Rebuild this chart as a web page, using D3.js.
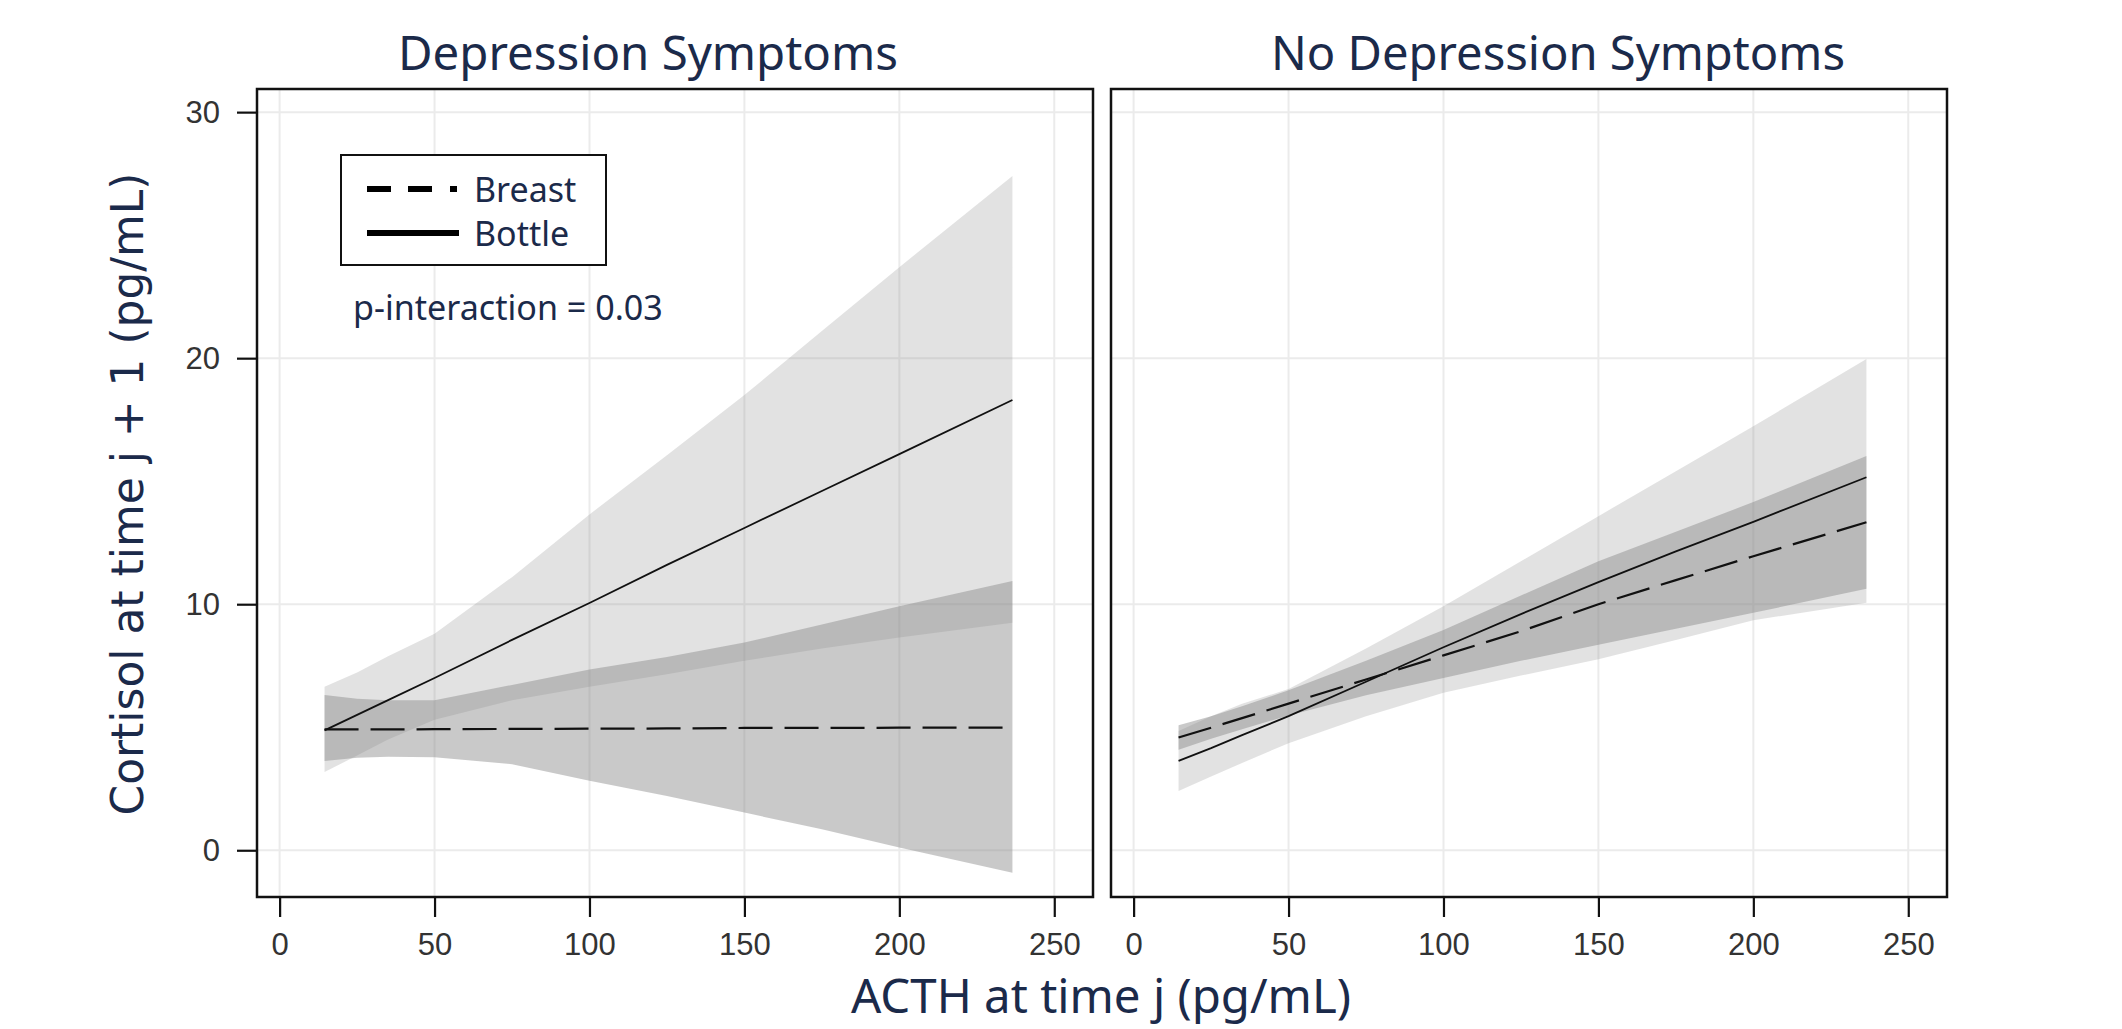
<!DOCTYPE html>
<html>
<head>
<meta charset="utf-8">
<script src="https://cdn.jsdelivr.net/npm/d3@7"></script>
<style>
  body { margin: 0; background: #fff; }
  svg { display: block; }
</style>
</head>
<body>
<svg id="chart" width="2122" height="1029"></svg>
<script>
const acth = [14.5, 25, 35, 50, 75, 100, 125, 150, 175, 200, 236.5];

// Depression symptoms panel
const depBottleFit = [4.87, 5.5, 6.1, 7.0, 8.55, 10.05, 11.6, 13.1, 14.6, 16.1, 18.3];
const depBottleLo  = [3.18, 3.85, 4.5, 5.3, 6.1, 6.65, 7.15, 7.7, 8.2, 8.65, 9.25];
const depBottleHi  = [6.65, 7.22, 7.89, 8.8, 11.1, 13.65, 16.05, 18.5, 21.1, 23.7, 27.4];
const depBreastFit = [4.91, 4.91, 4.91, 4.92, 4.93, 4.94, 4.95, 4.97, 4.97, 4.98, 4.98];
const depBreastLo  = [3.63, 3.76, 3.8, 3.78, 3.5, 2.82, 2.2, 1.53, 0.85, 0.11, -0.91];
const depBreastHi  = [6.31, 6.16, 6.1, 6.1, 6.72, 7.35, 7.85, 8.44, 9.18, 9.92, 10.94];

// No depression symptoms panel
const ndBottleFit = [3.63, 4.15, 4.68, 5.45, 6.85, 8.25, 9.6, 10.9, 12.15, 13.35, 15.16];
const ndBottleLo  = [2.41, 3.0, 3.55, 4.35, 5.45, 6.4, 7.1, 7.76, 8.55, 9.35, 10.06];
const ndBottleHi  = [4.85, 5.45, 5.95, 6.55, 8.2, 9.92, 11.75, 13.58, 15.4, 17.23, 19.97];
const ndBreastFit = [4.58, 4.98, 5.37, 5.96, 6.94, 7.92, 8.9, 10.0, 10.98, 11.95, 13.33];
const ndBreastLo  = [4.08, 4.53, 4.92, 5.48, 6.3, 7.0, 7.7, 8.35, 9.0, 9.65, 10.63];
const ndBreastHi  = [5.08, 5.45, 5.85, 6.5, 7.7, 8.95, 10.35, 11.75, 12.95, 14.15, 16.02];

const xTicks = [0, 50, 100, 150, 200, 250];
const yTicks = [0, 10, 20, 30];

const navy = "#1b2a4a";
const svg = d3.select("#chart");

const plotTop = 89, plotBottom = 897, panelW = 836;

const y = d3.scaleLinear().domain([-1.9, 30.94]).range([plotBottom, plotTop]);

function fitWidth(sel, target) {
    const size = parseFloat(sel.attr("font-size"));
    const len = sel.node().getComputedTextLength();
    sel.attr("font-size", (size * target / len).toFixed(2));
}

function drawPanel(left, s, title, titleX, showY) {
    const x = d3.scaleLinear().domain([-7.3, 262.5]).range([left, left + panelW]);
    const g = svg.append("g");

    // grid
    g.selectAll(".gx").data(xTicks).enter().append("line")
        .attr("x1", d => x(d)).attr("x2", d => x(d))
        .attr("y1", plotTop).attr("y2", plotBottom)
        .attr("stroke", "#ebebeb").attr("stroke-width", 2);
    g.selectAll(".gy").data(yTicks).enter().append("line")
        .attr("x1", left).attr("x2", left + panelW)
        .attr("y1", d => y(d)).attr("y2", d => y(d))
        .attr("stroke", "#ebebeb").attr("stroke-width", 2);

    const band = (lo, hi) => d3.area()
        .x((d, i) => x(acth[i]))
        .y0((d, i) => y(lo[i]))
        .y1((d, i) => y(hi[i]))(acth);
    const line = v => d3.line()
        .x((d, i) => x(acth[i]))
        .y((d, i) => y(v[i]))(acth);

    g.append("path").attr("d", band(s.bottleLo, s.bottleHi))
        .attr("fill", "rgb(134,134,134)").attr("fill-opacity", 0.24);
    g.append("path").attr("d", band(s.breastLo, s.breastHi))
        .attr("fill", "rgb(134,134,134)").attr("fill-opacity", 0.448);

    g.append("path").attr("d", line(s.bottleFit))
        .attr("fill", "none").attr("stroke", "#111").attr("stroke-width", 1.8);
    g.append("path").attr("d", line(s.breastFit))
        .attr("fill", "none").attr("stroke", "#111").attr("stroke-width", 2.2)
        .attr("stroke-dasharray", "34,12");

    // axes
    g.append("g")
        .attr("transform", `translate(0,${plotBottom})`)
        .call(d3.axisBottom(x).tickValues(xTicks).tickSize(20).tickPadding(16));
    if (showY) {
        g.append("g")
            .attr("transform", `translate(${left},0)`)
            .call(d3.axisLeft(y).tickValues(yTicks).tickSize(20).tickPadding(17));
    }
    g.selectAll(".domain").remove();
    g.selectAll(".tick line").attr("stroke", "#111").attr("stroke-width", 2.2);
    g.selectAll(".tick text")
        .attr("font-family", "Liberation Sans, Arial, sans-serif")
        .attr("font-size", 31).attr("fill", "#333");

    // frame
    g.append("rect")
        .attr("x", left).attr("y", plotTop)
        .attr("width", panelW).attr("height", plotBottom - plotTop)
        .attr("fill", "none").attr("stroke", "#111").attr("stroke-width", 2.5);

    const t = g.append("text")
        .attr("x", titleX).attr("y", 70)
        .attr("text-anchor", "middle")
        .attr("font-family", "Noto Sans").attr("font-size", 48)
        .attr("fill", navy).text(title);
    fitWidth(t, title.length > 19 ? 574 : 500);
}

drawPanel(257, {
    bottleFit: depBottleFit, bottleLo: depBottleLo, bottleHi: depBottleHi,
    breastFit: depBreastFit, breastLo: depBreastLo, breastHi: depBreastHi
}, "Depression Symptoms", 648, true);

drawPanel(1111, {
    bottleFit: ndBottleFit, bottleLo: ndBottleLo, bottleHi: ndBottleHi,
    breastFit: ndBreastFit, breastLo: ndBreastLo, breastHi: ndBreastHi
}, "No Depression Symptoms", 1558, false);

// legend
const lg = svg.append("g");
lg.append("rect").attr("x", 341).attr("y", 155).attr("width", 265).attr("height", 110)
    .attr("fill", "#fff").attr("stroke", "#111").attr("stroke-width", 2);
lg.append("line").attr("x1", 367).attr("x2", 459).attr("y1", 189).attr("y2", 189)
    .attr("stroke", "#000").attr("stroke-width", 6).attr("stroke-dasharray", "24,17,24,18,7");
lg.append("line").attr("x1", 367).attr("x2", 459).attr("y1", 233).attr("y2", 233)
    .attr("stroke", "#000").attr("stroke-width", 6);
[["Breast", 201.5], ["Bottle", 245.5]].forEach(([name, by]) => {
    lg.append("text").attr("x", 474).attr("y", by)
        .attr("font-family", "Noto Sans").attr("font-size", 34)
        .attr("fill", navy).text(name);
});

const p = svg.append("text").attr("x", 353).attr("y", 320)
    .attr("font-family", "Noto Sans").attr("font-size", 34)
    .attr("fill", navy).text("p-interaction = 0.03");
fitWidth(p, 310);

// axis titles
const yl = svg.append("text")
    .attr("transform", "translate(128,494) rotate(-90)")
    .attr("dy", "0.35em")
    .attr("text-anchor", "middle")
    .attr("font-family", "DejaVu Sans").attr("font-size", 44)
    .attr("fill", navy).text("Cortisol at time j + 1 (pg/mL)");
fitWidth(yl, 643);

const xl = svg.append("text")
    .attr("x", 1101).attr("y", 1013)
    .attr("text-anchor", "middle")
    .attr("font-family", "Noto Sans").attr("font-size", 47)
    .attr("fill", navy).text("ACTH at time j (pg/mL)");
fitWidth(xl, 500);
</script>
</body>
</html>
